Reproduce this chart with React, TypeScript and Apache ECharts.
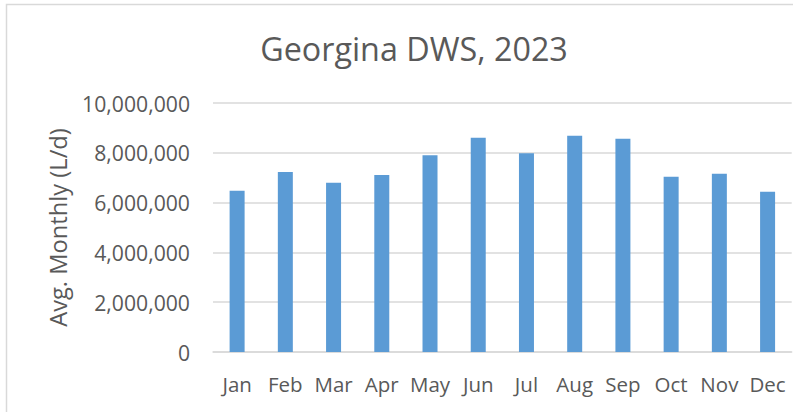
import React, { useEffect, useRef } from "react";
import * as echarts from "echarts";

const titleText = "Georgina DWS, 2023";
const yAxisName = "Avg. Monthly (L/d)";
const months = ["Jan", "Feb", "Mar", "Apr", "May", "Jun", "Jul", "Aug", "Sep", "Oct", "Nov", "Dec"];
const avgMonthly = [6480000, 7230000, 6800000, 7110000, 7900000, 8600000, 7980000, 8680000, 8560000, 7040000, 7160000, 6440000];
const yMin = 0;
const yMax = 10000000;
const yStep = 2000000;

const FONT = "'Open Sans', 'Noto Sans', sans-serif";
const TEXT = "#595959";

export default function App() {
  const ref = useRef<HTMLDivElement>(null);
  useEffect(() => {
    if (!ref.current) return;
    const chart = echarts.init(ref.current, undefined, { renderer: "svg" });
    chart.setOption({
      animation: false,
      backgroundColor: "#ffffff",
      textStyle: { fontFamily: FONT },
      graphic: [
        {
          type: "rect",
          shape: { x: 6.5, y: 4.5, width: 1000, height: 1000 },
          style: { fill: "none", stroke: "#d9d9d9", lineWidth: 1.5 },
          silent: true,
        },
        {
          type: "text",
          x: 414,
          y: 48,
          style: {
            text: titleText,
            fontFamily: FONT,
            fontSize: 32.3,
            fill: TEXT,
            textAlign: "center",
            textVerticalAlign: "middle",
          },
        },
      ],
      grid: { left: 213, right: 1.3, top: 103, bottom: 60, containLabel: false },
      xAxis: {
        type: "category",
        data: months,
        axisLine: { show: true, lineStyle: { color: "#d9d9d9", width: 1.5 } },
        axisTick: { show: false },
        axisLabel: { color: TEXT, fontSize: 20.5, fontFamily: FONT, margin: 21, interval: 0 },
      },
      yAxis: {
        type: "value",
        min: yMin,
        max: yMax,
        interval: yStep,
        name: yAxisName,
        nameLocation: "middle",
        nameGap: 143,
        nameRotate: 90,
        nameTextStyle: { color: TEXT, fontSize: 23.7, fontFamily: FONT },
        axisLine: { show: false },
        axisTick: { show: false },
        axisLabel: {
          color: TEXT,
          fontSize: 21.2,
          fontFamily: FONT,
          margin: 23,
          formatter: (v: number) => v.toLocaleString("en-US"),
        },
        splitLine: { show: true, lineStyle: { color: "#d9d9d9", width: 1.5 } },
      },
      series: [
        {
          type: "bar",
          data: avgMonthly,
          barWidth: 15,
          itemStyle: { color: "#5b9bd5" },
        },
      ],
    });
    return () => chart.dispose();
  }, []);
  return (
    <div
      ref={ref}
      style={{ position: "fixed", left: 0, top: 0, width: 793, height: 412 }}
    />
  );
}
